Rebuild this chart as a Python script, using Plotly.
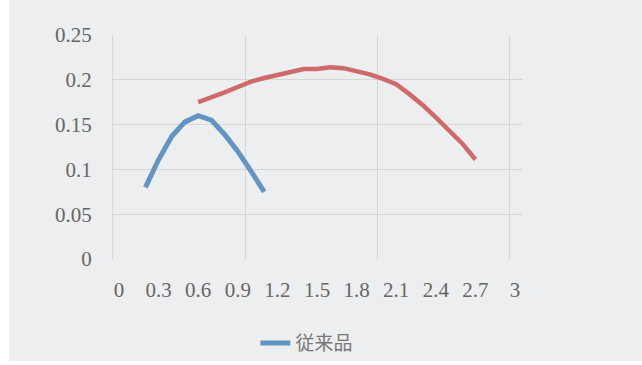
import plotly.graph_objects as go

# Conventional product (従来品)
conv_x = [0.2, 0.3, 0.4, 0.5, 0.6, 0.7, 0.8, 0.9, 1.0, 1.1]
conv_y = [0.080, 0.111, 0.137, 0.153, 0.160, 0.155, 0.139, 0.120, 0.098, 0.075]

# Improved product (no legend entry)
new_x = [0.6, 0.7, 0.8, 0.9, 1.0, 1.1, 1.2, 1.3, 1.4, 1.5, 1.6,
         1.7, 1.8, 1.9, 2.0, 2.1, 2.2, 2.3, 2.4, 2.5, 2.6, 2.7]
new_y = [0.175, 0.180, 0.186, 0.192, 0.198, 0.202, 0.205, 0.209, 0.212, 0.212, 0.214,
         0.213, 0.210, 0.206, 0.201, 0.195, 0.184, 0.172, 0.158, 0.144, 0.129, 0.111]

x_ticks = [0, 0.3, 0.6, 0.9, 1.2, 1.5, 1.8, 2.1, 2.4, 2.7, 3]
x_tick_text = ["0", "0.3", "0.6", "0.9", "1.2", "1.5", "1.8", "2.1", "2.4", "2.7", "3"]
y_ticks = [0, 0.05, 0.1, 0.15, 0.2, 0.25]
y_tick_text = ["0", "0.05", "0.1", "0.15", "0.2", "0.25"]
x_grid = [0.9545, 1.9545, 2.9545]

BG = "#eceeef"
GRID = "#d6d8d8"
TEXT = "#666666"
BLUE = "#6494c2"
RED = "#cf6a6a"

fig = go.Figure()
fig.add_trace(go.Scatter(
    x=conv_x, y=conv_y, mode="lines", name="従来品",
    line=dict(color=BLUE, width=5),
))
fig.add_trace(go.Scatter(
    x=new_x, y=new_y, mode="lines", name="", showlegend=False,
    line=dict(color=RED, width=4.5),
))

fig.update_layout(
    width=642, height=365,
    margin=dict(l=113, r=120, t=35, b=106),
    paper_bgcolor=BG, plot_bgcolor=BG,
    font=dict(family="Liberation Serif", size=21, color=TEXT),
    showlegend=True,
    legend=dict(
        orientation="h", xref="container", yref="container",
        x=0.478, y=0.06, xanchor="center", yanchor="middle",
        bgcolor="rgba(0,0,0,0)",
        font=dict(family="Noto Sans CJK JP", size=19, color="#777777"),
    ),
    xaxis=dict(
        range=[-0.0455, 3.053], tickmode="array",
        tickvals=x_ticks, ticktext=x_tick_text,
        showgrid=False, zeroline=False, showline=False, automargin=False,
        ticks="", ticklabelstandoff=16,
        minor=dict(tickvals=x_grid, showgrid=True, gridcolor=GRID, gridwidth=1, ticks=""),
    ),
    yaxis=dict(
        range=[0, 0.25], tickmode="array",
        tickvals=y_ticks, ticktext=y_tick_text, automargin=False,
        showgrid=True, gridcolor=GRID, gridwidth=1,
        zeroline=False, showline=True, linecolor=GRID, linewidth=1,
        ticks="", ticklabelstandoff=16,
    ),
    shapes=[
        # white scan border along the left and bottom edges
        dict(type="rect", xref="paper", yref="paper", x0=-0.30, x1=-0.2543,
             y0=-0.50, y1=1.2, fillcolor="white", line=dict(width=0), layer="below"),
        dict(type="rect", xref="paper", yref="paper", x0=-0.30, x1=1.4,
             y0=-0.50, y1=-0.455, fillcolor="white", line=dict(width=0), layer="below"),
    ],
)

fig.write_html("out.html")
